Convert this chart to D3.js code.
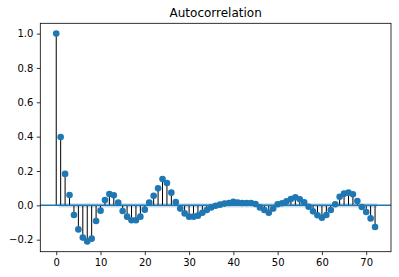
<!DOCTYPE html>
<html>
<head>
<meta charset="utf-8">
<script src="https://cdn.jsdelivr.net/npm/d3@7"></script>
<style>
  body { margin: 0; background: #fff; }
  svg text { font-family: "DejaVu Sans", sans-serif; fill: #000; }
</style>
</head>
<body>
<div id="vis"></div>
<script>
// frame
const FRAME_WIDTH = 399;
const FRAME_HEIGHT = 277;
const AX = {left: 40.3, right: 391, top: 23.3, bottom: 251.7};

// data: acf values for lags 0..72
const acf = [1.0, 0.398, 0.183, 0.060, -0.056, -0.140, -0.188, -0.210, -0.194, -0.091,
  -0.031, 0.031, 0.066, 0.058, 0.016, -0.033, -0.066, -0.087, -0.087, -0.066,
  -0.025, 0.016, 0.056, 0.099, 0.153, 0.130, 0.074, 0.019, -0.019, -0.047,
  -0.066, -0.066, -0.060, -0.043, -0.027, -0.012, -0.002, 0.004, 0.010, 0.014,
  0.021, 0.016, 0.014, 0.014, 0.014, 0.008, -0.012, -0.027, -0.043, -0.019,
  0.006, 0.012, 0.023, 0.037, 0.047, 0.035, 0.017, -0.008, -0.035, -0.058,
  -0.072, -0.056, -0.027, 0.006, 0.050, 0.068, 0.074, 0.064, 0.025, -0.010,
  -0.039, -0.076, -0.126];
const lags = acf.map((d, i) => i);
const confHalf = 0.012;      // half width of the confidence band
const xTicks = [0, 10, 20, 30, 40, 50, 60, 70];
const yTicks = [-0.2, 0.0, 0.2, 0.4, 0.6, 0.8, 1.0];

const svg = d3.select("#vis").append("svg")
  .attr("width", FRAME_WIDTH)
  .attr("height", FRAME_HEIGHT);

const X_SCALE = d3.scaleLinear().domain([-3.6, 75.6]).range([AX.left, AX.right]);
const Y_SCALE = d3.scaleLinear().domain([-0.27, 1.06]).range([AX.bottom, AX.top]);

// confidence band
const band = [{x: 0.5}, {x: 72.5}];
svg.append("path")
  .datum(band)
  .attr("d", d3.area()
    .x(d => X_SCALE(d.x))
    .y0(Y_SCALE(-confHalf))
    .y1(Y_SCALE(confHalf)))
  .attr("fill", "#1f77b4")
  .attr("fill-opacity", 0.25);

// stems
svg.selectAll(".stem")
  .data(acf)
  .enter()
  .append("line")
    .attr("x1", (d, i) => X_SCALE(lags[i]))
    .attr("x2", (d, i) => X_SCALE(lags[i]))
    .attr("y1", Y_SCALE(0))
    .attr("y2", d => Y_SCALE(d))
    .attr("stroke", "#000")
    .attr("stroke-width", 1);

// zero line
svg.append("line")
  .attr("x1", AX.left).attr("x2", AX.right)
  .attr("y1", Y_SCALE(0)).attr("y2", Y_SCALE(0))
  .attr("stroke", "#1f77b4")
  .attr("stroke-width", 1.5);

// markers
svg.selectAll(".point")
  .data(acf)
  .enter()
  .append("circle")
    .attr("cx", (d, i) => X_SCALE(lags[i]))
    .attr("cy", d => Y_SCALE(d))
    .attr("r", 3.3)
    .attr("fill", "#1f77b4");

// axes
const xAxis = svg.append("g")
  .attr("transform", "translate(0," + AX.bottom + ")")
  .call(d3.axisBottom(X_SCALE).tickValues(xTicks).tickSize(3.5).tickPadding(3.5).tickFormat(d3.format("d")));
const yAxis = svg.append("g")
  .attr("transform", "translate(" + AX.left + ",0)")
  .call(d3.axisLeft(Y_SCALE).tickValues(yTicks).tickSize(3.5).tickPadding(3.5).tickFormat(d3.format(".1f")));
[xAxis, yAxis].forEach(g => {
  g.select(".domain").remove();
  g.selectAll(".tick line").attr("stroke", "#000").attr("stroke-width", 0.8);
  g.selectAll("text").attr("font-size", "10px").attr("font-family", "DejaVu Sans");
});

// frame
svg.append("rect")
  .attr("x", AX.left).attr("y", AX.top)
  .attr("width", AX.right - AX.left).attr("height", AX.bottom - AX.top)
  .attr("fill", "none").attr("stroke", "#000").attr("stroke-width", 0.8);

// title
svg.append("text")
  .attr("x", (AX.left + AX.right) / 2)
  .attr("y", AX.top - 6)
  .attr("text-anchor", "middle")
  .attr("font-size", "12px")
  .text("Autocorrelation");
</script>
</body>
</html>
